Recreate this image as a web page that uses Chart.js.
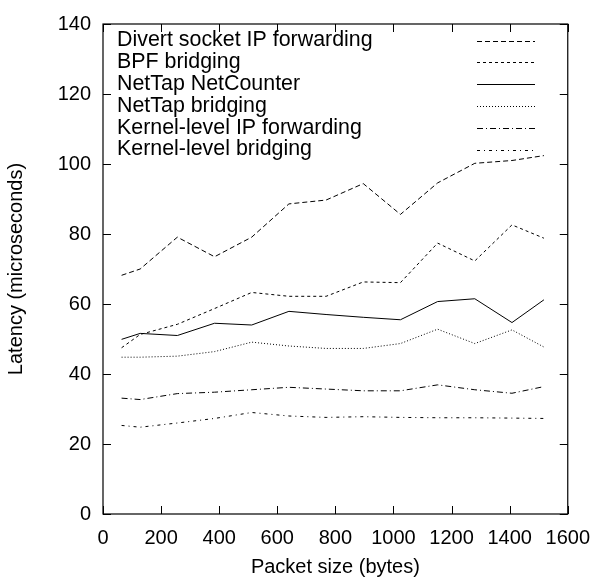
<!DOCTYPE html>
<html>
<head>
<meta charset="utf-8">
<script src="https://cdn.jsdelivr.net/npm/chart.js@4"></script>
<style>
  html, body { margin: 0; padding: 0; background: #fff; }
  #wrap { width: 602px; height: 584px; }
</style>
</head>
<body>
<div id="wrap"><canvas id="c"></canvas></div>
<script>
// tamaños de paquete (bytes)
const packetSizes = [64, 128, 256, 384, 512, 640, 768, 896, 1024, 1152, 1280, 1408, 1518];

// latencias (microsegundos)
const divertFwd   = [68.2, 70.0, 79.1, 73.5, 79.1, 88.6, 89.7, 94.4, 85.6, 94.6, 100.2, 101.0, 102.4];
const bpfBridge   = [47.5, 51.3, 54.2, 58.7, 63.3, 62.2, 62.2, 66.3, 66.1, 77.4, 72.3, 82.6, 78.8];
const netCounter  = [49.9, 51.6, 51.0, 54.5, 54.0, 57.9, 57.0, 56.2, 55.5, 60.7, 61.5, 54.7, 61.2];
const netTapBridge = [44.8, 44.8, 45.1, 46.4, 49.1, 48.0, 47.3, 47.3, 48.7, 52.8, 48.7, 52.6, 47.7];
const kernelFwd   = [33.1, 32.7, 34.4, 34.8, 35.5, 36.2, 35.7, 35.2, 35.2, 36.9, 35.5, 34.5, 36.4];
const kernelBridge = [25.3, 24.8, 26.0, 27.3, 29.0, 28.0, 27.6, 27.8, 27.6, 27.5, 27.5, 27.4, 27.3];

const labels = [
  "Divert socket IP forwarding",
  "BPF bridging",
  "NetTap NetCounter",
  "NetTap bridging",
  "Kernel-level IP forwarding",
  "Kernel-level bridging"
];
const series = [divertFwd, bpfBridge, netCounter, netTapBridge, kernelFwd, kernelBridge];
const dashes = [[5, 3], [3, 3], [], [1, 2], [6, 3, 1, 3], [3, 4, 1, 4]];

const FONT = "'Liberation Sans', Arial, Helvetica, sans-serif";

const toPts = ys => packetSizes.map((x, i) => ({ x, y: ys[i] }));

// marco + marcas de escala hacia dentro (estilo gnuplot)
const framePlugin = {
  id: "frame",
  afterDraw(chart) {
    const { ctx, chartArea: a, scales } = chart;
    const t = 8;
    ctx.save();
    ctx.strokeStyle = "#000";
    ctx.lineWidth = 1.2;
    ctx.setLineDash([]);
    ctx.strokeRect(a.left, a.top, a.right - a.left, a.bottom - a.top);
    ctx.lineWidth = 1;
    ctx.beginPath();
    scales.x.ticks.forEach(tk => {
      const px = Math.round(scales.x.getPixelForValue(tk.value)) + 0.5;
      ctx.moveTo(px, a.bottom); ctx.lineTo(px, a.bottom - t);
      ctx.moveTo(px, a.top);    ctx.lineTo(px, a.top + t);
    });
    scales.y.ticks.forEach(tk => {
      const py = Math.round(scales.y.getPixelForValue(tk.value)) + 0.5;
      ctx.moveTo(a.left, py);  ctx.lineTo(a.left + t, py);
      ctx.moveTo(a.right, py); ctx.lineTo(a.right - t, py);
    });
    ctx.stroke();
    ctx.restore();
  }
};

// leyenda: texto a la izquierda, muestra de línea a la derecha
const legendPlugin = {
  id: "gnuLegend",
  afterDatasetsDraw(chart) {
    const { ctx, chartArea: a } = chart;
    ctx.save();
    ctx.font = "21.4px " + FONT;
    ctx.fillStyle = "#000";
    ctx.textBaseline = "middle";
    chart.data.datasets.forEach((ds, i) => {
      const y = a.top + 16.5 + i * 21.8;
      ctx.fillText(ds.label, a.left + 14, y);
      ctx.strokeStyle = "#000";
      ctx.lineWidth = 1;
      ctx.setLineDash(ds.borderDash || []);
      ctx.beginPath();
      ctx.moveTo(a.left + 374, Math.round(y) + 0.5);
      ctx.lineTo(a.left + 432, Math.round(y) + 0.5);
      ctx.stroke();
    });
    ctx.restore();
  }
};

new Chart(document.getElementById("c"), {
  type: "line",
  data: {
    datasets: series.map((s, i) => ({
      label: labels[i],
      data: toPts(s),
      borderColor: "#000",
      borderWidth: 1,
      borderDash: dashes[i],
      pointRadius: 0,
      tension: 0,
      fill: false
    }))
  },
  options: {
    responsive: true,
    maintainAspectRatio: false,
    animation: false,
    layout: { padding: { top: 12, right: 22, left: 0, bottom: 0 } },
    plugins: { legend: { display: false }, tooltip: { enabled: false } },
    scales: {
      x: {
        type: "linear",
        min: 0, max: 1600,
        grid: { display: false, drawTicks: false },
        border: { display: false },
        ticks: { stepSize: 200, padding: 12, color: "#000", font: { family: FONT, size: 20 }, maxRotation: 0, callback: v => String(v) },
        title: { display: true, text: "Packet size (bytes)", color: "#000", font: { family: FONT, size: 20 }, padding: { top: 4, bottom: 5 } },
        afterFit: s => { s.height = 70; }
      },
      y: {
        min: 0, max: 140,
        grid: { display: false, drawTicks: false },
        border: { display: false },
        ticks: { stepSize: 20, padding: 12, color: "#000", font: { family: FONT, size: 20 }, callback: v => String(v) },
        title: { display: true, text: "Latency (microseconds)", color: "#000", font: { family: FONT, size: 20 }, padding: { top: 4, bottom: 4 } },
        afterFit: s => { s.width = 103; }
      }
    }
  },
  plugins: [framePlugin, legendPlugin]
});
</script>
</body>
</html>
